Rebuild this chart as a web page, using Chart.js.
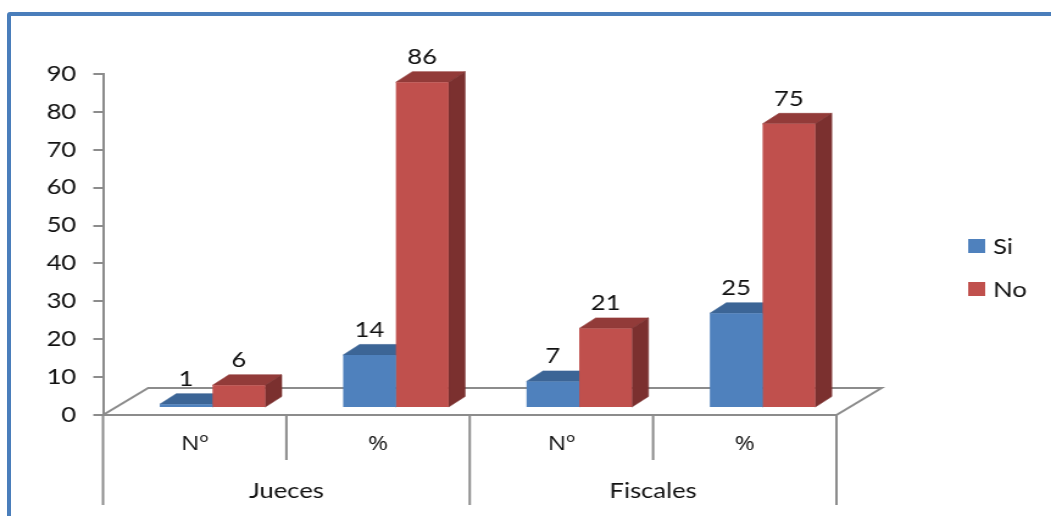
<!DOCTYPE html>
<html>
<head>
<meta charset="utf-8">
<script src="https://cdn.jsdelivr.net/npm/chart.js@4.4.1/dist/chart.umd.min.js"></script>
<style>
  html, body { margin: 0; padding: 0; background: #fff; overflow: hidden; }
  /* the drawing is a little wider than tall, like the original sheet */
  #wrap { position: absolute; left: 0; top: 0; width: 862px; height: 516px; transform: scaleX(1.2193); transform-origin: 0 0; }
  #frame { position: absolute; left: 7px; top: 12px; width: 1100px; height: 600px; border: 4px solid #4a7ebb; border-radius: 3px; pointer-events: none; }
</style>
</head>
<body>
<div id="wrap"><canvas id="myChart" width="862" height="516"></canvas></div>
<div id="frame"></div>
<script>
const categories = ["Nº", "%", "Nº", "%"];
const groups = ["Jueces", "Fiscales"];
const siValues = [1, 14, 7, 25];
const noValues = [6, 86, 21, 75];
const yMax = 90;
const yStep = 10;

const FONT = "Lato";
const LINE = "#8c8c8c";
const BAR_SHIFT = {x: 14.6, y: -7};
const BAR_DEPTH = {x: 13.5, y: -10.5};
const FLOOR_DEPTH = {x: 37, y: -27};

function drawFaces(ctx, bar, ds) {
  const dx = BAR_DEPTH.x, dy = BAR_DEPTH.y;
  const {x, y, width, base} = bar.getProps(["x", "y", "width", "base"], true);
  const l = x - width / 2, r = x + width / 2;
  ctx.lineWidth = 0.6;
  ctx.beginPath();
  ctx.moveTo(l, y);
  ctx.lineTo(r, y);
  ctx.lineTo(r + dx, y + dy);
  ctx.lineTo(l + dx, y + dy);
  ctx.closePath();
  ctx.fillStyle = ctx.strokeStyle = ds.topColor;
  ctx.fill();
  ctx.stroke();
  ctx.beginPath();
  ctx.moveTo(r, y);
  ctx.lineTo(r + dx, y + dy);
  ctx.lineTo(r + dx, base + dy);
  ctx.lineTo(r, base);
  ctx.closePath();
  ctx.fillStyle = ctx.strokeStyle = ds.sideColor;
  ctx.fill();
  ctx.stroke();
}

// fake 3d: floor, top and side faces, value labels, group axis, legend
const threeD = {
  id: "threeD",
  beforeDatasetsDraw(chart) {
    const {ctx, scales: {x, y}} = chart;
    const y0 = y.getPixelForValue(0);
    ctx.save();
    ctx.beginPath();
    ctx.moveTo(x.left, y0);
    ctx.lineTo(x.right, y0);
    ctx.lineTo(x.right + FLOOR_DEPTH.x, y0 + FLOOR_DEPTH.y);
    ctx.lineTo(x.left + FLOOR_DEPTH.x, y0 + FLOOR_DEPTH.y);
    ctx.closePath();
    ctx.fillStyle = "#fff";
    ctx.fill();
    ctx.strokeStyle = LINE;
    ctx.lineWidth = 2;
    ctx.stroke();
    ctx.translate(BAR_SHIFT.x, BAR_SHIFT.y);
    // tops and sides first, left bar before right one; the front faces go on top
    categories.forEach((c, j) => {
      chart.data.datasets.forEach((ds, i) => {
        drawFaces(ctx, chart.getDatasetMeta(i).data[j], ds);
      });
    });
  },
  afterDatasetsDraw(chart) {
    const {ctx} = chart;
    ctx.font = "21px " + FONT;
    ctx.fillStyle = "#111";
    ctx.textAlign = "center";
    ctx.textBaseline = "middle";
    chart.data.datasets.forEach((ds, i) => {
      chart.getDatasetMeta(i).data.forEach((bar, j) => {
        ctx.fillText(String(ds.data[j]), bar.x, bar.y - 25);
      });
    });
    ctx.restore();
  },
  afterDraw(chart) {
    const {ctx, scales: {x, y}} = chart;
    const y0 = y.getPixelForValue(0);
    const step = (x.right - x.left) / categories.length;
    ctx.save();
    ctx.strokeStyle = LINE;
    ctx.lineWidth = 2;
    for (let i = 0; i <= categories.length; i++) {
      const px = x.left + i * step;
      ctx.beginPath();
      ctx.moveTo(px, y0);
      ctx.lineTo(px, i % 2 === 0 ? 505 : 460);
      ctx.stroke();
    }
    ctx.font = "21px " + FONT;
    ctx.fillStyle = "#111";
    ctx.textAlign = "center";
    ctx.textBaseline = "middle";
    groups.forEach((g, i) => {
      ctx.fillText(g, x.left + (2 * i + 1) * step, 491);
    });
    // legend
    ctx.textAlign = "left";
    chart.data.datasets.forEach((ds, i) => {
      const cy = 246 + i * 43;
      ctx.fillStyle = ds.backgroundColor;
      ctx.fillRect(794, cy - 7, 14, 14);
      ctx.fillStyle = "#111";
      ctx.fillText(ds.label, 814.5, cy + 1);
    });
    ctx.restore();
  }
};

const ctx = document.getElementById("myChart");

new Chart(ctx, {
  type: "bar",
  data: {
    labels: categories,
    datasets: [
      {label: "Si", data: siValues, backgroundColor: "#4f81bd", topColor: "#3c6596", sideColor: "#385d8a"},
      {label: "No", data: noValues, backgroundColor: "#c0504d", topColor: "#923b39", sideColor: "#7b302f"},
    ],
  },
  options: {
    responsive: false,
    animation: false,
    events: [],
    layout: {padding: {top: 74, right: 176, left: 0, bottom: 0}},
    datasets: {bar: {categoryPercentage: 0.575, barPercentage: 1}},
    plugins: {legend: {display: false}, tooltip: {enabled: false}},
    scales: {
      x: {
        grid: {display: false, drawTicks: false},
        border: {display: false},
        ticks: {font: {family: "'Open Sans'", size: 20}, color: "#111", padding: 17, maxRotation: 0, autoSkip: false},
        afterFit: (s) => { s.height = 101; },
      },
      y: {
        min: 0,
        max: yMax,
        ticks: {stepSize: yStep, font: {family: FONT, size: 21}, color: "#111", padding: 14},
        grid: {drawOnChartArea: false, tickLength: 8, color: LINE, lineWidth: 2},
        border: {color: LINE, width: 2},
        afterFit: (s) => { s.width = 84.5; },
      },
    },
  },
  plugins: [threeD],
});
</script>
</body>
</html>
